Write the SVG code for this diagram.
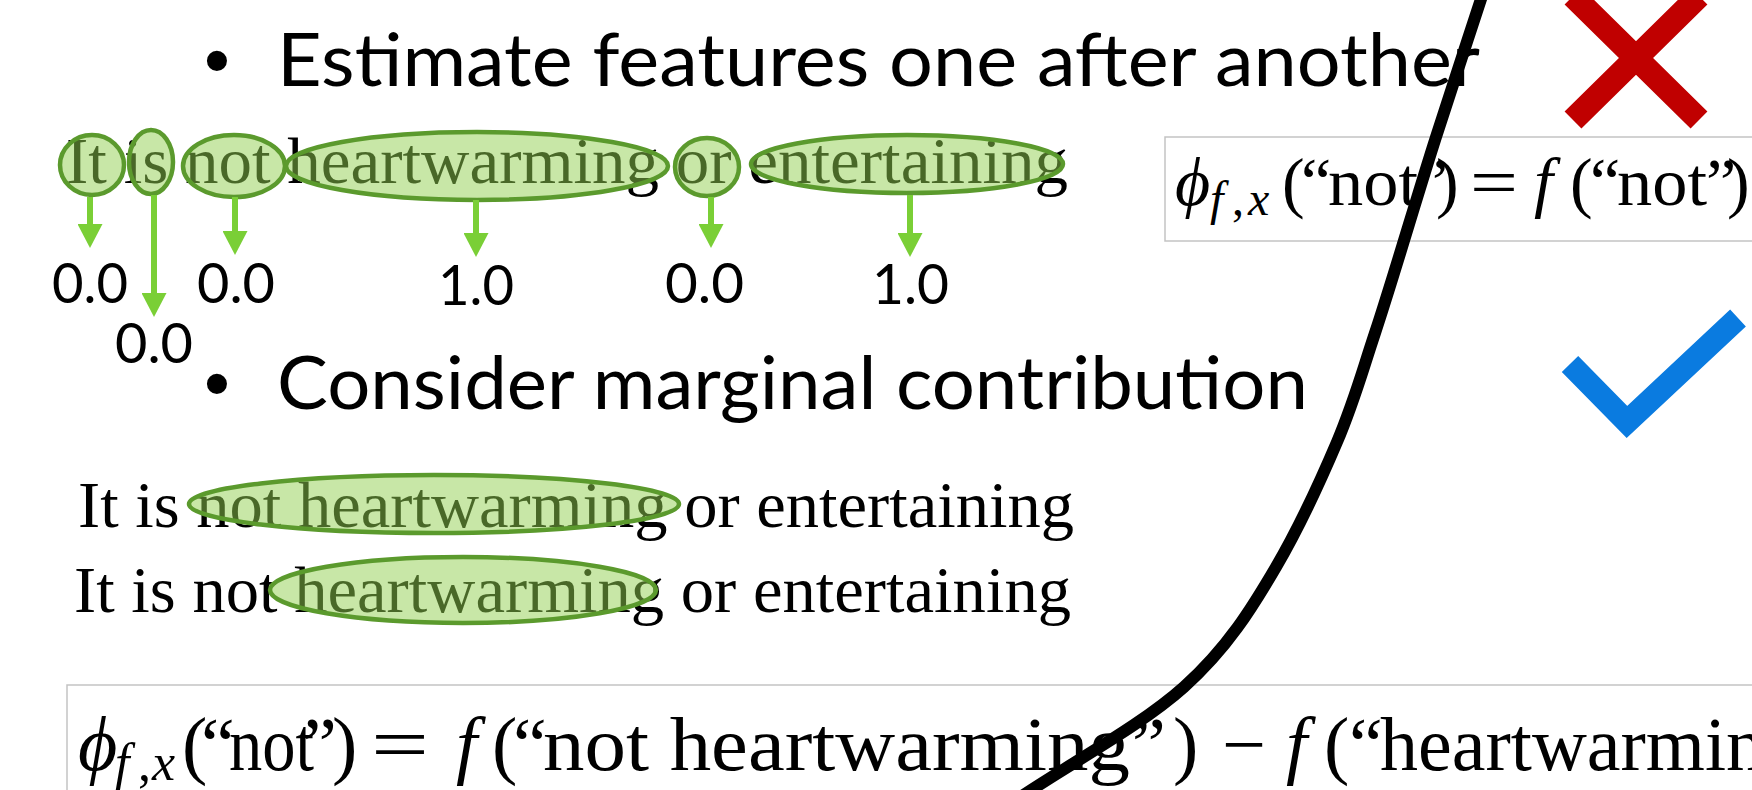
<svg xmlns="http://www.w3.org/2000/svg" width="1752" height="790" viewBox="0 0 1752 790">
<defs>
<style>
.title{font-family:Lato,'Liberation Sans',sans-serif;font-size:74px;fill:#000}
.bullet{font-family:'Liberation Sans',Arial,sans-serif;font-size:74px;fill:#000}
.num{font-family:Lato,'Liberation Sans',sans-serif;font-size:57px;fill:#000}
.serif{font-family:'Liberation Serif','Times New Roman',serif;font-size:65px;fill:#000}
.hl{fill:#92D050;fill-opacity:0.5;stroke:#5B9A2D;stroke-width:4.5}
.arrow{fill:none;stroke:#7ACF36;stroke-width:6;marker-end:url(#ah)}
.math{font-family:'Liberation Serif','DejaVu Serif','Times New Roman',serif;fill:#000}
.it{font-style:italic}
.box{fill:none;stroke:#c3c3c3;stroke-width:1.5}
.m1{font-size:68px}
.m2{font-size:76px}
.s1{font-size:48px}
.s2{font-size:52px}
</style>
<marker id="ah" viewBox="0 0 24 25" refX="2" refY="12.5" markerWidth="24" markerHeight="25" markerUnits="userSpaceOnUse" orient="auto">
<path d="M0,0 L24,12.5 L0,25 Z" fill="#7ACF36"/>
</marker>
</defs>
<rect x="0" y="0" width="1752" height="790" fill="#fff"/>

<g id="title1">
<text class="bullet" x="217" y="86" text-anchor="middle">•</text>
<text class="title" x="277" y="86" textLength="1203" lengthAdjust="spacingAndGlyphs">Estimate features one after another</text>
</g>

<g id="sentence1">
<text class="serif" x="66" y="183" textLength="1002" lengthAdjust="spacingAndGlyphs">It is not heartwarming or entertaining</text>
</g>
<g id="hl-it"><ellipse class="hl" cx="92" cy="165" rx="32" ry="30"/></g>
<g id="hl-is"><ellipse class="hl" cx="151" cy="162" rx="22" ry="32"/></g>
<g id="hl-not"><ellipse class="hl" cx="234" cy="166" rx="51" ry="31"/></g>
<g id="hl-heartwarming"><ellipse class="hl" cx="477" cy="166" rx="191" ry="34"/></g>
<g id="hl-or"><ellipse class="hl" cx="707" cy="167" rx="32" ry="29"/></g>
<g id="hl-entertaining"><ellipse class="hl" cx="907" cy="164" rx="156" ry="29"/></g>

<g id="connectors">
<line class="arrow" x1="90" y1="197" x2="90" y2="226"/>
<line class="arrow" x1="154" y1="195" x2="154" y2="295"/>
<line class="arrow" x1="235" y1="197" x2="235" y2="233"/>
<line class="arrow" x1="476" y1="200" x2="476" y2="235"/>
<line class="arrow" x1="711" y1="197" x2="711" y2="226"/>
<line class="arrow" x1="910" y1="195" x2="910" y2="235"/>
</g>

<g id="val-it"><text class="num" x="52" y="303" textLength="76" lengthAdjust="spacingAndGlyphs">0.0</text></g>
<g id="val-is"><text class="num" x="115" y="363" textLength="78" lengthAdjust="spacingAndGlyphs">0.0</text></g>
<g id="val-not"><text class="num" x="197" y="303" textLength="78" lengthAdjust="spacingAndGlyphs">0.0</text></g>
<g id="val-heartwarming"><text class="num" x="438" y="305" textLength="76" lengthAdjust="spacingAndGlyphs">1.0</text></g>
<g id="val-or"><text class="num" x="665" y="303" textLength="79" lengthAdjust="spacingAndGlyphs">0.0</text></g>
<g id="val-entertaining"><text class="num" x="872" y="304" textLength="77" lengthAdjust="spacingAndGlyphs">1.0</text></g>

<g id="title2">
<text class="bullet" x="217" y="409" text-anchor="middle">•</text>
<text class="title" x="277" y="409" textLength="1031" lengthAdjust="spacingAndGlyphs">Consider marginal contribution</text>
</g>

<g id="sentence2">
<text class="serif" x="78" y="527" textLength="996" lengthAdjust="spacingAndGlyphs">It is not heartwarming or entertaining</text>
<ellipse class="hl" cx="434" cy="504" rx="245" ry="29"/>
</g>
<g id="sentence3">
<text class="serif" x="74" y="612" textLength="997" lengthAdjust="spacingAndGlyphs">It is not heartwarming or entertaining</text>
<ellipse class="hl" cx="463" cy="590" rx="193" ry="33"/>
</g>

<g id="formula-top">
<rect class="box" x="1165" y="137" width="700" height="104"/>
<text class="math m1" y="205">
<tspan class="it" x="1175">ϕ</tspan><tspan class="it s1" x="1210" y="215">f</tspan><tspan class="s1" x="1232" y="215">,</tspan><tspan class="it s1" x="1248" y="215">x</tspan><tspan x="1282" y="205">(</tspan><tspan x="1301">“</tspan><tspan x="1328" textLength="90" lengthAdjust="spacingAndGlyphs">not</tspan><tspan x="1418">”</tspan><tspan x="1436">)</tspan><tspan x="1470" textLength="48" lengthAdjust="spacingAndGlyphs">=</tspan><tspan class="it" x="1534">f</tspan><tspan x="1570">(</tspan><tspan x="1590">“</tspan><tspan x="1617" textLength="90" lengthAdjust="spacingAndGlyphs">not</tspan><tspan x="1706">”</tspan><tspan x="1727">)</tspan>
</text>
</g>

<g id="formula-bottom">
<rect class="box" x="67" y="685" width="1800" height="300"/>
<text class="math m2" y="770">
<tspan class="it" x="78">ϕ</tspan><tspan class="it s2" x="115" y="780">f</tspan><tspan class="s2" x="138" y="780">,</tspan><tspan class="it s2" x="152" y="780">x</tspan><tspan x="182" y="770">(</tspan><tspan x="201">“</tspan><tspan x="229" textLength="85" lengthAdjust="spacingAndGlyphs">not</tspan><tspan x="303">”</tspan><tspan x="332">)</tspan><tspan x="371" textLength="58" lengthAdjust="spacingAndGlyphs">=</tspan><tspan class="it" x="456">f</tspan><tspan x="492">(</tspan><tspan x="513">“</tspan><tspan x="543" textLength="587" lengthAdjust="spacingAndGlyphs">not heartwarming</tspan><tspan x="1132">”</tspan><tspan x="1173">)</tspan><tspan x="1222" textLength="44" lengthAdjust="spacingAndGlyphs">−</tspan><tspan class="it" x="1286">f</tspan><tspan x="1324">(</tspan><tspan x="1349">“</tspan><tspan x="1380">heartwarmin</tspan>
</text>
</g>

<g id="curve">
<path d="M1016,800 C1072,762.3 1140.7,725.8 1184,687 C1227.3,648.2 1252,608 1276,567 C1300,526 1320,482 1337,442 C1354,402 1362,372 1375,333 C1392,282 1418,193 1436,137 C1454,81 1466.7,43 1482,-4" fill="none" stroke="#000" stroke-width="12"/>
</g>

<g id="cross">
<path d="M1573,-4 L1699,120 M1699,-4 L1573,120" fill="none" stroke="#C00000" stroke-width="24"/>
</g>

<g id="check">
<path d="M1570,364 L1627,422 L1738,318" fill="none" stroke="#0A7BE0" stroke-width="23" stroke-linejoin="miter"/>
</g>
</svg>
